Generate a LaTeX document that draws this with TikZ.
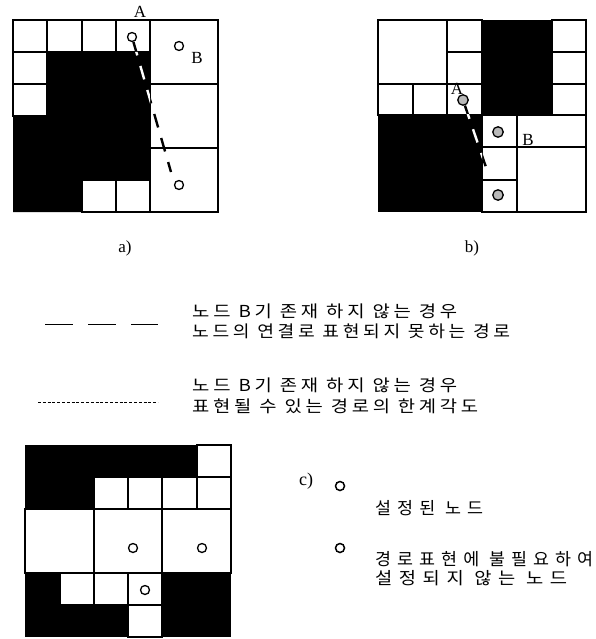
\documentclass[tikz,border=0pt]{standalone}
\usepackage{graphicx}
\usepackage{fontspec}
\setmainfont{Liberation Serif}
\newfontfamily\kr[LetterSpace=20]{Noto Sans CJK KR}
\newfontfamily\krw[LetterSpace=35]{Noto Sans CJK KR}
\newlength\fitlen
\newcommand\fitw[2]{\settowidth\fitlen{#2}\pgfmathsetmacro\fitsf{#1/\fitlen}\scalebox{\fitsf}[1]{#2}}
\newcommand\krA{\kr\fontsize{16.5}{16.5}\selectfont}
\newcommand\krB{\krw\fontsize{17}{17}\selectfont}
\begin{document}
\begin{tikzpicture}[x=1pt,y=-1pt,
  cell/.style={draw=black, fill=white, line width=1.1pt},
  blk/.style={fill=black},
  nd/.style={circle, draw=black, line width=1.3pt, fill=white, inner sep=0pt, minimum size=9pt},
  gnd/.style={nd, fill=gray!55, minimum size=10.5pt},
  pathline/.style={line width=2.4pt, dash pattern=on 14pt off 11pt},
  lbl/.style={inner sep=0pt, font=\fontsize{17}{17}\selectfont},
  krtext/.style={inner sep=0pt, anchor=west}]
\useasboundingbox[fill=white] (0,0) rectangle (595,639);

% ---------------- panel a ----------------
\foreach \xa/\ya/\xb/\yb in {13/20/47/52, 47/20/82/52, 82/20/116/52, 116/20/150/52,
  150/20/218/84, 13/52/47/84, 13/84/47/116, 150/84/218/148, 150/148/218/212,
  82/180/116/212, 116/180/150/212}
  \draw[cell] (\xa,\ya) rectangle (\xb,\yb);
\fill[blk] (47,52) -- (150,52) -- (150,180) -- (82,180) -- (82,212) -- (13,212) -- (13,116) -- (47,116) -- cycle;
\node[nd] (aA) at (132,37) {};
\node[nd] (aB) at (179,46) {};
\node[nd] (aC) at (179,185) {};
\node[lbl] (aAl) at (140,12) {A};
\node[lbl] (aBl) at (197,58) {B};
\coordinate (aE) at (171,172);
\draw[pathline, black] (aA) -- (aE);
\begin{scope}
  \clip (47,52) -- (150,52) -- (150,180) -- (82,180) -- (82,212) -- (13,212) -- (13,116) -- (47,116) -- cycle;
  \draw[pathline, white] (aA) -- (aE);
\end{scope}
\node[lbl] (la) at (125,248) {a)};

% ---------------- panel b ----------------
\foreach \xa/\ya/\xb/\yb in {378/20/447/84, 447/20/482/52, 447/52/482/84,
  552/20/586/52, 552/52/586/84, 552/84/586/115,
  378/84/413/115, 413/84/447/115, 447/84/482/115,
  482/115/517/147, 482/147/517/180, 482/180/517/212,
  517/115/586/147, 517/147/586/212}
  \draw[cell] (\xa,\ya) rectangle (\xb,\yb);
\fill[blk] (482,20) rectangle (552,115);
\fill[blk] (378,115) rectangle (482,212);
\node[gnd] (bA) at (463,100) {};
\node[gnd] (bB) at (498,132) {};
\node[gnd] (bC) at (498,195) {};
\node[lbl] (bAl) at (457,89) {A};
\node[lbl] (bBl) at (528,140) {B};
\coordinate (bE) at (489,176);
\draw[pathline, black] (bA) -- (bE);
\begin{scope}
  \clip (378,115) rectangle (482,212);
  \draw[pathline, white] (bA) -- (bE);
\end{scope}
\node[lbl] (lb) at (472,248) {b)};

% ---------------- legend a/b ----------------
\coordinate (d1s) at (45,324);
\coordinate (d1e) at (158,324);
\draw[line width=1pt, dash pattern=on 28pt off 15pt] (d1s) -- (d1e);
\node[krtext] (t1) at (192,311) {\fitw{265}{\krA 노드 B기 존재 하지 않는 경우}};
\node[krtext] (t2) at (192,331) {\fitw{318}{\krA 노드의 연결로 표현되지 못하는 경로}};
\coordinate (d2s) at (38,402);
\coordinate (d2e) at (158,402);
\draw[line width=1pt, dash pattern=on 3pt off 1.8pt] (d2s) -- (d2e);
\node[krtext] (t3) at (192,385) {\fitw{265}{\krA 노드 B기 존재 하지 않는 경우}};
\node[krtext] (t4) at (192,406) {\fitw{286}{\krA 표현될 수 있는 경로의 한계각도}};

% ---------------- panel c ----------------
\foreach \xa/\ya/\xb/\yb in {197/445/231/477,
  94/477/128/509, 128/477/162/509, 162/477/197/509, 197/477/231/509,
  25/509/94/573, 94/509/162/573, 162/509/231/573,
  60/573/94/605, 94/573/128/605, 128/573/162/605,
  128/605/162/637}
  \draw[cell] (\xa,\ya) rectangle (\xb,\yb);
\fill[blk] (25,445) rectangle (197,477);
\fill[blk] (25,477) rectangle (94,509);
\fill[blk] (25,573) rectangle (60,605);
\fill[blk] (25,605) rectangle (128,637);
\fill[blk] (162,573) rectangle (231,637);
\node[nd] (c1) at (133,548) {};
\node[nd] (c2) at (202,548) {};
\node[nd] (c3) at (145,590) {};

% ---------------- legend c ----------------
\node[lbl, font=\fontsize{18}{18}\selectfont] (lc) at (306,481) {c)};
\node[nd, line width=1.5pt] (k1) at (340,486) {};
\node[krtext] (t5) at (375,508) {\fitw{108}{\krB 설정된 노드}};
\node[nd, line width=1.5pt] (k2) at (340,548) {};
\node[krtext] (t6) at (375,559) {\fitw{218}{\krB 경로표현에 불필요하여}};
\node[krtext] (t7) at (375,578) {\fitw{192}{\krB 설정되지 않는 노드}};
\end{tikzpicture}
\end{document}
